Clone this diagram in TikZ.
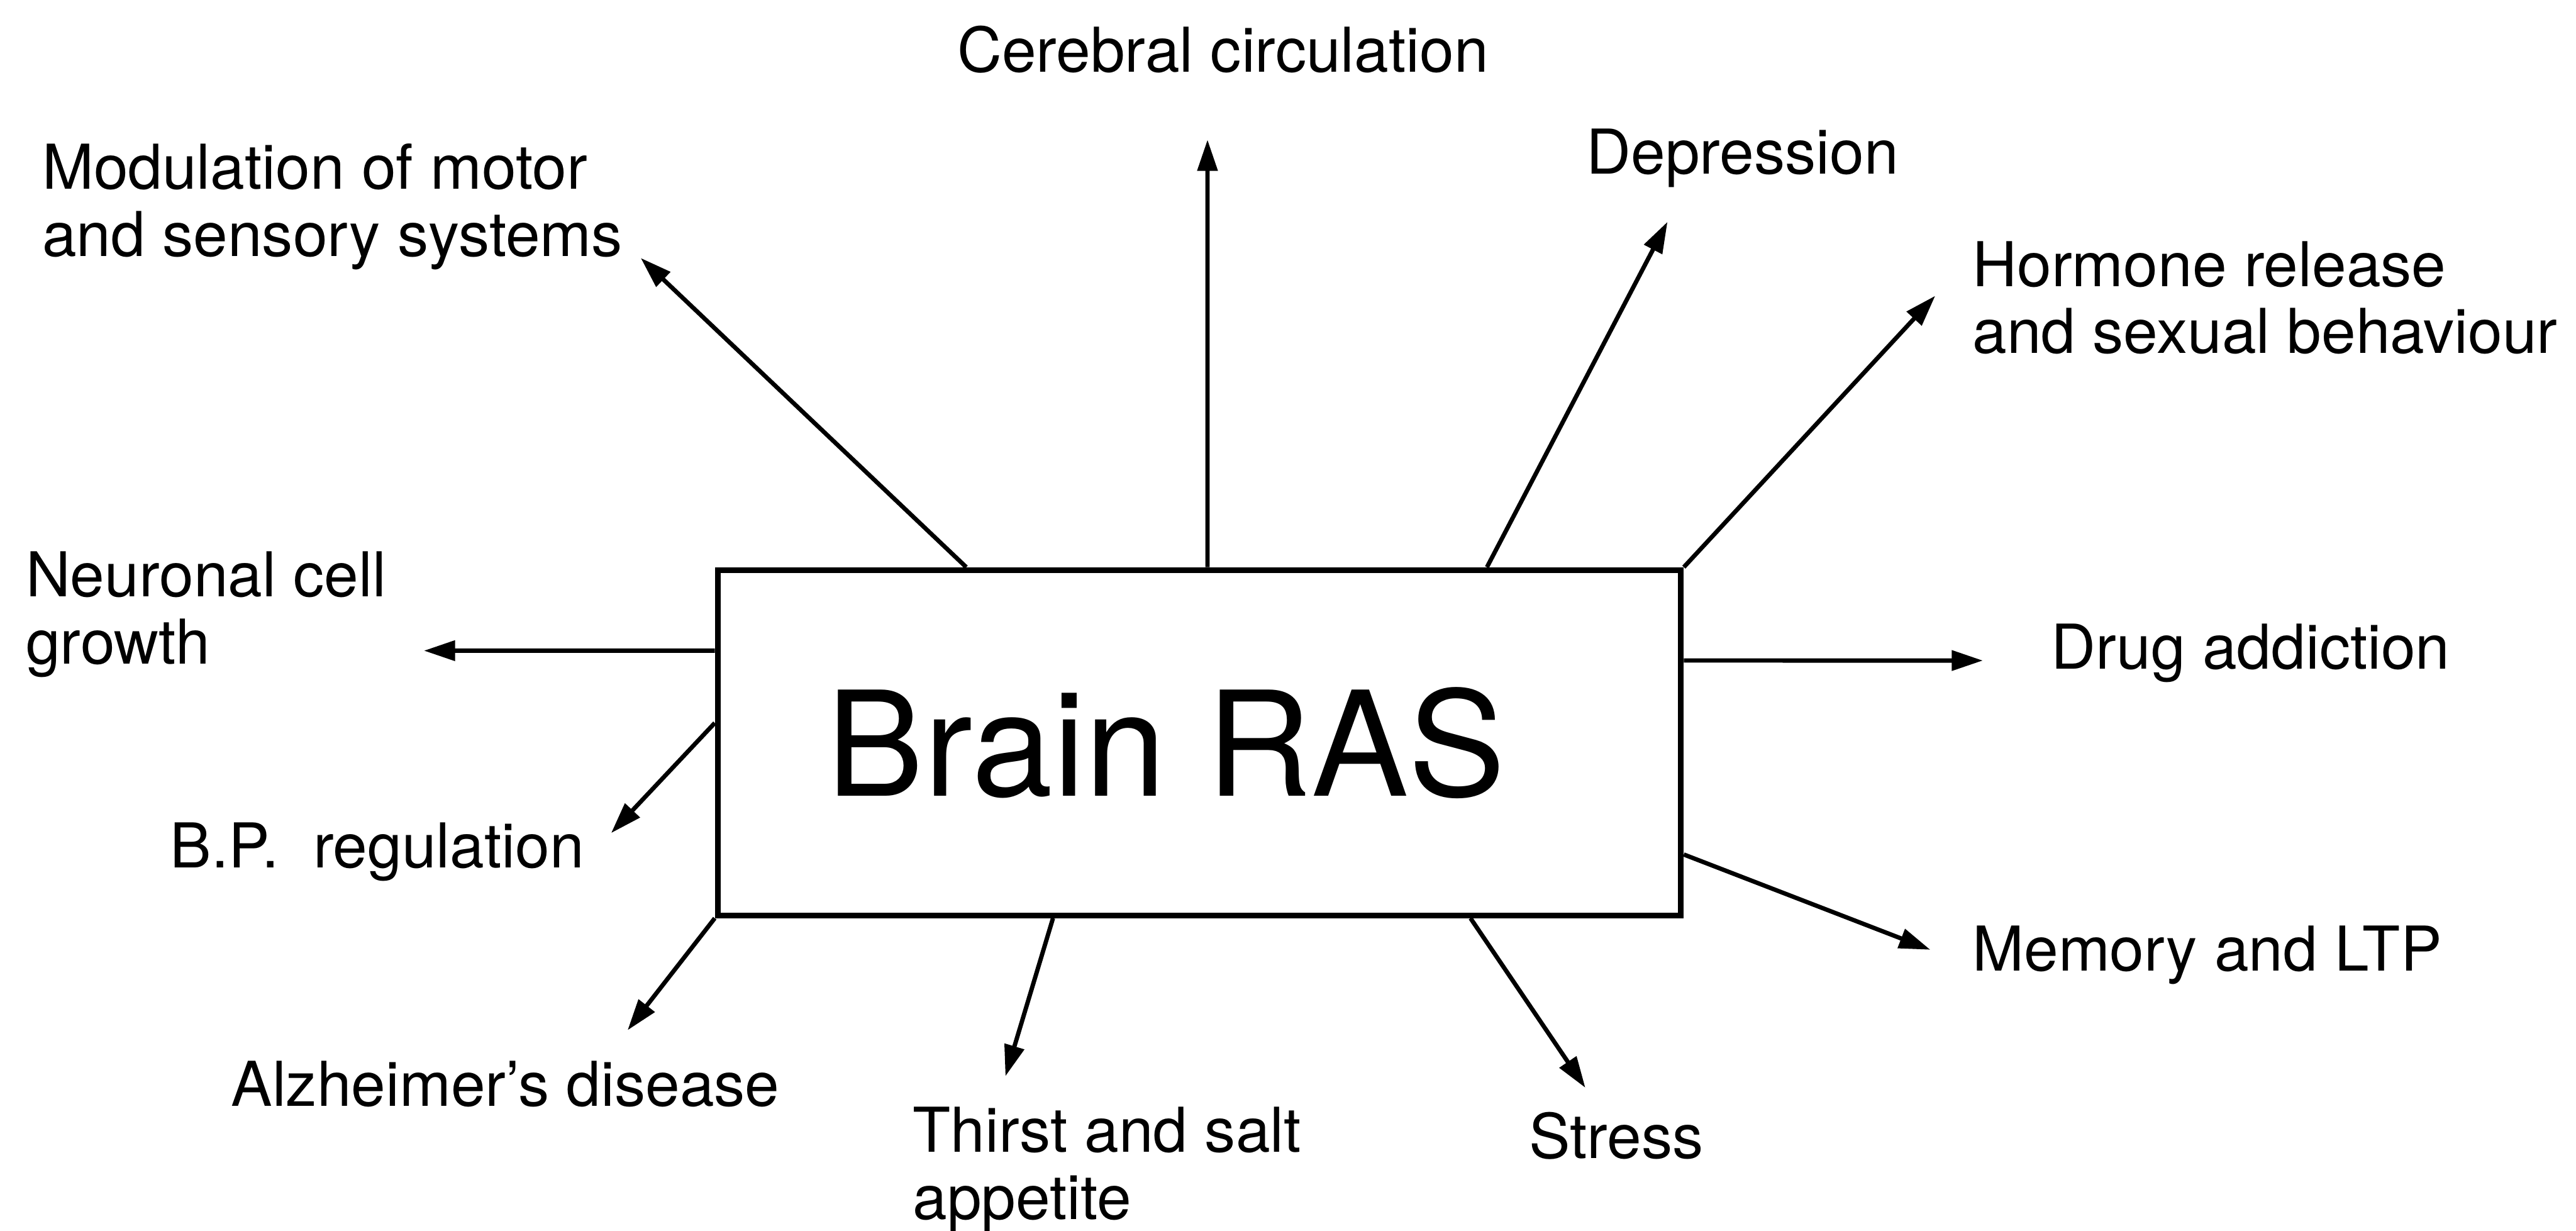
\documentclass[tikz,border=0pt]{standalone}
\usepackage{fontspec}
\setmainfont{TeX Gyre Heros}
\usetikzlibrary{arrows.meta,positioning,calc}

\begin{document}
\begin{tikzpicture}[
  x=0.01cm,y=-0.01cm,
  font=\fontsize{10.7}{11.6}\selectfont,
  box/.style={rectangle,draw,line width=1pt,inner sep=0pt,minimum width=5.86cm,minimum height=2.1cm,font=\fontsize{25.2}{30}\selectfont},
  lbl/.style={anchor=base west,inner sep=0pt,align=left},
  arr/.style={-{Triangle[length=1.9mm,width=1.2mm]},line width=0.75pt}
]
\useasboundingbox (0,0) rectangle (1568,749);
\node[box] (ras) at (730,452) {Brain RAS\hspace*{0.4cm}};
% labels round the box (base = last line)
\node[lbl] (circ) at (582,44) {Cerebral circulation};
\node[lbl] (motor) at (25,156) {Modulation of motor\\and sensory systems};
\node[lbl] (depr) at (965,106) {Depression};
\node[lbl] (horm) at (1200,215) {Hormone release\\and sexual behaviour};
\node[lbl] (neur) at (15,404) {Neuronal cell\\growth};
\node[lbl] (drug) at (1248,407) {Drug addiction};
\node[lbl] (bp) at (103,528) {B.P.\ \ regulation};
\node[lbl] (mem) at (1200,591) {Memory and LTP};
\node[lbl] (alz) at (140,673) {Alzheimer’s disease};
\node[lbl] (thirst) at (555,742) {Thirst and salt\\appetite};
\node[lbl] (stress) at (930,705) {Stress};
% arrow tips
\coordinate (tmotor) at (390,157);
\coordinate (tcirc) at (735,85);
\coordinate (tdepr) at (1015,135);
\coordinate (thorm) at (1178,180);
\coordinate (tdrug) at (1207,402);
\coordinate (tmem) at (1175,578);
\coordinate (tstress) at (965,662);
\coordinate (tthirst) at (612,655);
\coordinate (talz) at (382,627);
\coordinate (tbp) at (372,507);
\coordinate (tneur) at (258,396);
\draw[arr] ([xshift=1.53cm]ras.north west) -- (tmotor);
\draw[arr] ([xshift=0.05cm]ras.north) -- (tcirc);
\draw[arr] ([xshift=1.75cm]ras.north) -- (tdepr);
\draw[arr] (ras.north east) -- (thorm);
\draw[arr] ([yshift=0.5cm]ras.east) -- (tdrug);
\draw[arr] ([yshift=-0.68cm]ras.east) -- (tmem);
\draw[arr] ([xshift=1.65cm]ras.south) -- (tstress);
\draw[arr] ([xshift=-0.89cm]ras.south) -- (tthirst);
\draw[arr] (ras.south west) -- (talz);
\draw[arr] ([yshift=0.12cm]ras.west) -- (tbp);
\draw[arr] ([yshift=0.56cm]ras.west) -- (tneur);
\end{tikzpicture}
\end{document}
